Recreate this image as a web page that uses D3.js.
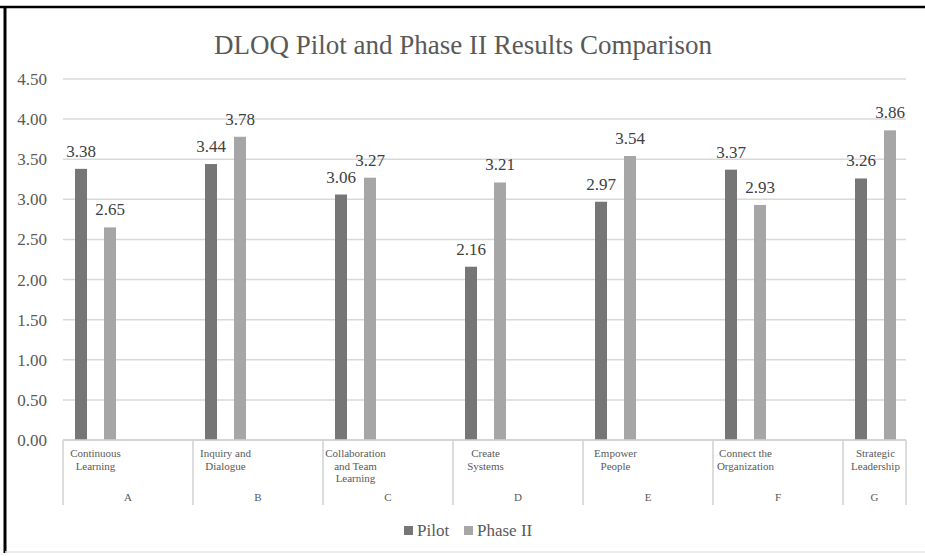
<!DOCTYPE html>
<html><head><meta charset="utf-8">
<script src="https://cdn.jsdelivr.net/npm/d3@7/dist/d3.min.js"></script>
<style>html,body{margin:0;padding:0;background:#fff;}svg{display:block;}</style>
</head><body>
<script>
const title = "DLOQ Pilot and Phase II Results Comparison";
const groups = ["A","B","C","D","E","F","G"];
const categoryLines = [["Continuous","Learning"],["Inquiry and","Dialogue"],["Collaboration","and Team","Learning"],["Create","Systems"],["Empower","People"],["Connect the","Organization"],["Strategic","Leadership"]];
const seriesNames = ["Pilot","Phase II"];
const pilot = [3.38,3.44,3.06,2.16,2.97,3.37,3.26];
const phase2 = [2.65,3.78,3.27,3.21,3.54,2.93,3.86];
const yTicks = [0,0.5,1,1.5,2,2.5,3,3.5,4,4.5];
const colors = ["#767676","#a6a6a6"];

(function(){
const W=925,H=556;
const svg=d3.select("body").append("svg").attr("width",W).attr("height",H);
const serif="'Liberation Serif','Times New Roman',serif";
svg.append("rect").attr("width",W).attr("height",H).attr("fill","#fff");

const pLeft=63, pRight=906, pTop=79, pBottom=440, step=130;
const x=d3.scaleBand().domain(groups).range([pLeft,pLeft+step*groups.length]).paddingInner(0).paddingOuter(0);
const xs=d3.scaleBand().domain(seriesNames).range([12,53]).paddingInner(17/29).paddingOuter(0);
const y=d3.scaleLinear().domain([0,4.5]).range([pBottom,pTop]);

svg.append("defs").append("clipPath").attr("id","plotclip").append("rect").attr("x",pLeft).attr("y",0).attr("width",pRight-pLeft).attr("height",H);

// gridlines
svg.append("g").selectAll("line").data(yTicks).join("line")
 .attr("x1",pLeft).attr("x2",pRight).attr("y1",d=>y(d)).attr("y2",d=>y(d))
 .attr("stroke","#d9d9d9").attr("stroke-width",1.5);

// y axis labels
const yAxis=d3.axisLeft(y).tickValues(yTicks).tickFormat(d3.format(".2f")).tickSize(0).tickPadding(0);
const ya=svg.append("g").attr("transform",`translate(${47},0)`).call(yAxis);
ya.select(".domain").remove();
ya.selectAll("text").attr("font-family",serif).attr("font-size",17).attr("fill","#595959");

// bars
const rows=groups.map((g,i)=>({g,i,vals:[pilot[i],phase2[i]]}));
const gBars=svg.append("g").attr("clip-path","url(#plotclip)");
const gg=gBars.selectAll("g").data(rows).join("g").attr("transform",d=>`translate(${x(d.g)},0)`);
gg.selectAll("rect").data(d=>d.vals.map((v,j)=>({v,s:seriesNames[j],j}))).join("rect")
 .attr("x",d=>xs(d.s)).attr("width",xs.bandwidth())
 .attr("y",d=>y(d.v)).attr("height",d=>y(0)-y(d.v)).attr("fill",d=>colors[d.j]);
gg.selectAll("text").data(d=>d.vals.map((v,j)=>({v,s:seriesNames[j],j}))).join("text")
 .attr("x",d=>xs(d.s)+xs.bandwidth()/2).attr("y",d=>y(d.v)-12)
 .attr("text-anchor","middle").attr("font-family",serif).attr("font-size",17).attr("fill","#404040")
 .text(d=>d3.format(".2f")(d.v));

// category axis
svg.append("line").attr("x1",pLeft).attr("x2",pRight).attr("y1",pBottom).attr("y2",pBottom).attr("stroke","#d0d0d0").attr("stroke-width",1.5);
const seps=groups.map(g=>x(g)).concat([pRight]);
svg.append("g").selectAll("line").data(seps).join("line")
 .attr("x1",d=>d).attr("x2",d=>d).attr("y1",pBottom).attr("y2",505)
 .attr("stroke","#d0d0d0").attr("stroke-width",1.5);
const catG=svg.append("g");
rows.forEach(r=>{
  const cx=x(r.g)+(xs("Pilot")+xs("Phase II")+xs.bandwidth())/2;
  const t=catG.append("text").attr("font-family",serif).attr("font-size",11).attr("fill","#595959").attr("text-anchor","middle");
  categoryLines[r.i].forEach((ln,k)=>t.append("tspan").attr("x",cx).attr("y",457+k*12.5).text(ln));
  const x0=x(r.g), x1=Math.min(x0+x.bandwidth(),pRight);
  catG.append("text").attr("x",(x0+x1)/2).attr("y",501).attr("text-anchor","middle")
   .attr("font-family",serif).attr("font-size",11).attr("fill","#595959").text(r.g);
});

// title
svg.append("text").attr("x",463).attr("y",54).attr("text-anchor","middle")
 .attr("font-family",serif).attr("font-size",27).attr("fill","#595959").text(title);

// legend
const lg=svg.append("g");
const legendItems=[{n:"Pilot",x:404},{n:"Phase II",x:464}];
legendItems.forEach((it,j)=>{
  lg.append("rect").attr("x",it.x).attr("y",526).attr("width",9).attr("height",9).attr("fill",colors[j]);
  lg.append("text").attr("x",it.x+13).attr("y",536).attr("font-family",serif).attr("font-size",17).attr("fill","#595959").text(it.n);
});

// frame
svg.append("line").attr("x1",0).attr("x2",W).attr("y1",7).attr("y2",7).attr("stroke","#000").attr("stroke-width",2.5);
svg.append("line").attr("x1",5).attr("x2",5).attr("y1",6).attr("y2",553).attr("stroke","#000").attr("stroke-width",3);
svg.append("line").attr("x1",5).attr("x2",W).attr("y1",552).attr("y2",552).attr("stroke","#e6e6e6").attr("stroke-width",1.5);
})();
</script>
</body></html>
